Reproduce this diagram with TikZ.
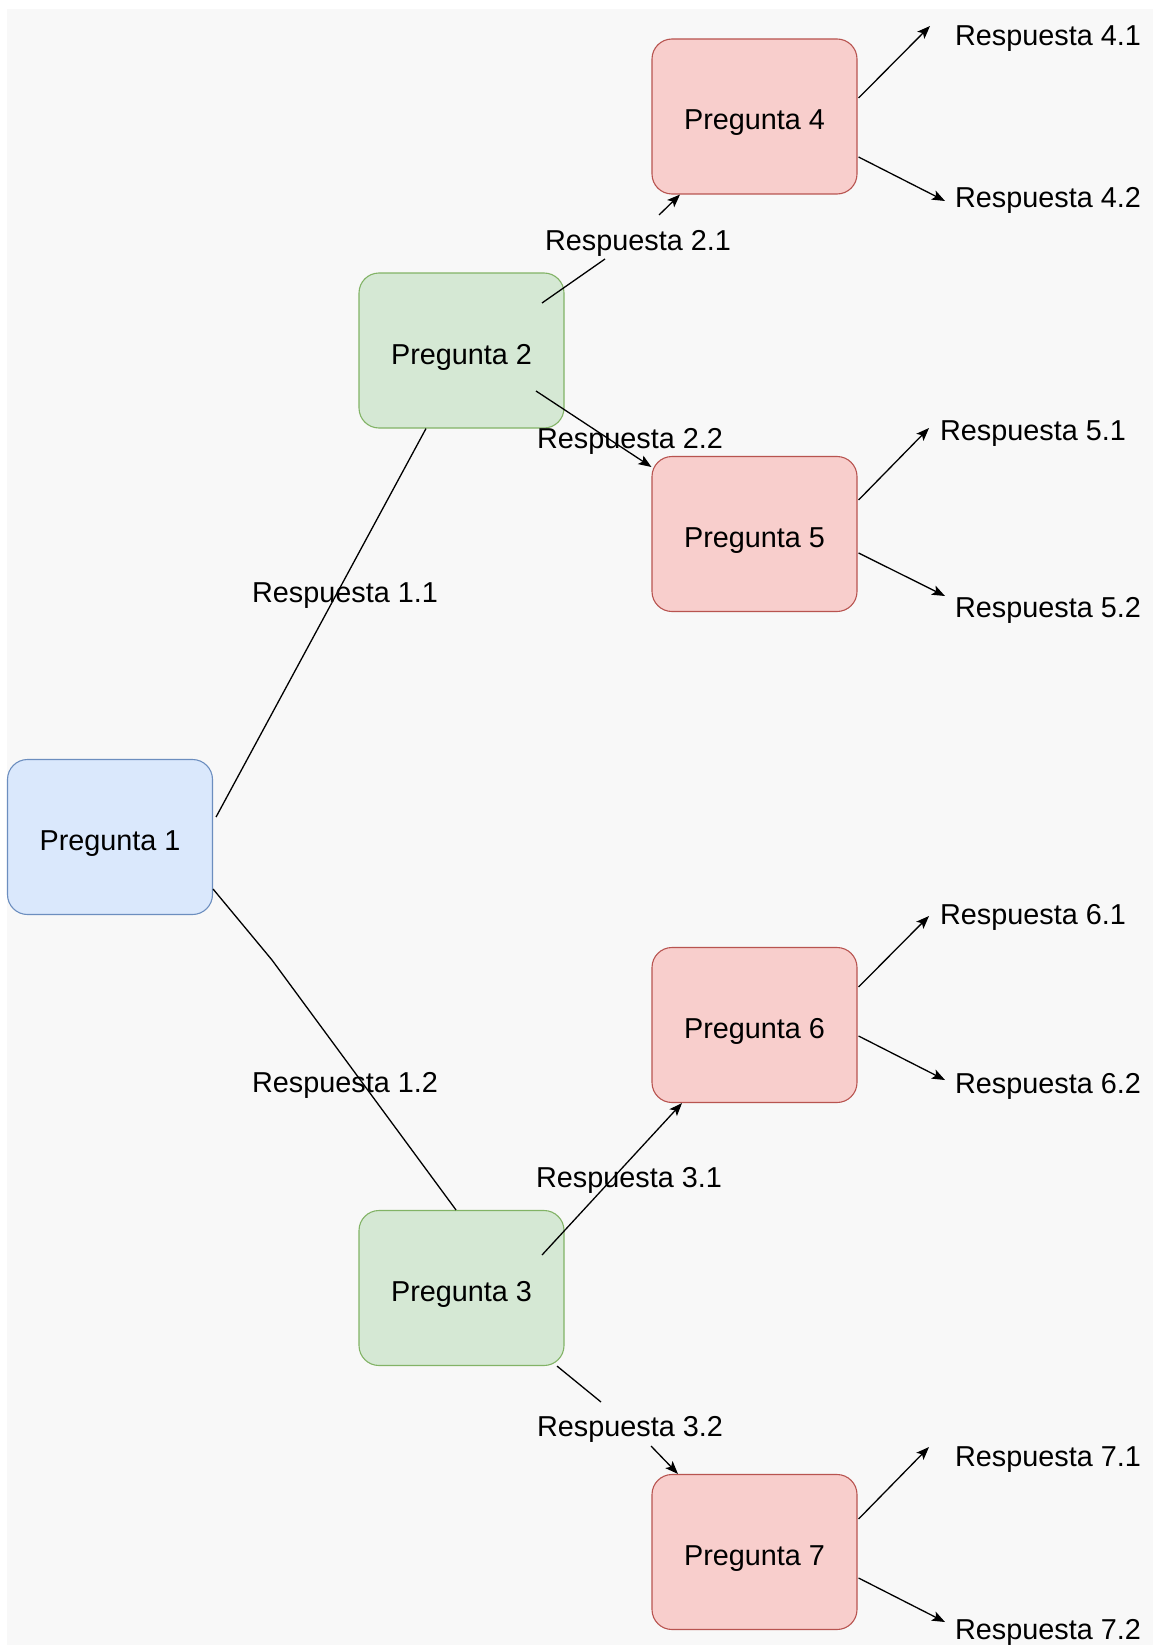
\documentclass[tikz,border=0pt]{standalone}
\usepackage{fontspec}
\setmainfont{Liberation Sans}
\usetikzlibrary{arrows.meta}
\definecolor{pagebg}{HTML}{F8F8F8}
\definecolor{bluefill}{HTML}{DAE8FC}
\definecolor{blueline}{HTML}{6C8EBF}
\definecolor{greenfill}{HTML}{D5E8D4}
\definecolor{greenline}{HTML}{82B366}
\definecolor{redfill}{HTML}{F8CECC}
\definecolor{redline}{HTML}{B85450}
\begin{document}
\begin{tikzpicture}[x=1pt,y=-1pt,
  box/.style={draw, rounded corners=20pt, minimum width=205pt, minimum height=155pt,
    inner sep=0pt, line width=1.1pt, text height=27pt, text depth=0pt,
    font=\fontsize{28.8}{34}\selectfont},
  rootq/.style={box, fill=bluefill, draw=blueline},
  midq/.style={box, fill=greenfill, draw=greenline},
  leafq/.style={box, fill=redfill, draw=redline},
  ans/.style={inner sep=0pt, text height=19.6pt, text depth=0pt,
    font=\fontsize{28.8}{34}\selectfont},
  link/.style={line width=1.3pt, black},
  arr/.style={link, -{Stealth[length=13pt,width=10pt,inset=3pt]}},
]
\useasboundingbox (0,0) rectangle (1153,1645);
\fill[white] (0,0) rectangle (1153,1645);
\fill[pagebg] (7,9) rectangle (1153,1645);

% question boxes
\node[rootq] (p1) at (110,837)    {Pregunta 1};
\node[midq]  (p2) at (461.5,350.5) {Pregunta 2};
\node[midq]  (p3) at (461.5,1288) {Pregunta 3};
\node[leafq] (p4) at (754.5,116.5) {Pregunta 4};
\node[leafq] (p5) at (754.5,534)  {Pregunta 5};
\node[leafq] (p6) at (754.5,1025) {Pregunta 6};
\node[leafq] (p7) at (754.5,1552) {Pregunta 7};

% answer labels
\node[ans] (r11) at (345,593)    {Respuesta 1.1};
\node[ans] (r12) at (345,1083)   {Respuesta 1.2};
\node[ans] (r21) at (638,241)    {Respuesta 2.1};
\node[ans] (r22) at (630,439)    {Respuesta 2.2};
\node[ans] (r31) at (629,1178)   {Respuesta 3.1};
\node[ans] (r32) at (630,1427)   {Respuesta 3.2};
\node[ans] (r41) at (1048,36)    {Respuesta 4.1};
\node[ans] (r42) at (1048,197.5) {Respuesta 4.2};
\node[ans] (r51) at (1033,431)   {Respuesta 5.1};
\node[ans] (r52) at (1048,608)   {Respuesta 5.2};
\node[ans] (r61) at (1033,914.5) {Respuesta 6.1};
\node[ans] (r62) at (1048,1084)  {Respuesta 6.2};
\node[ans] (r71) at (1048,1457)  {Respuesta 7.1};
\node[ans] (r72) at (1048,1630)  {Respuesta 7.2};

\coordinate (bend12) at (272,960);

% level 1
\draw[link] ([shift={(3pt,20pt)}]p1.east) -- ([xshift=-35.5pt]p2.south);
\draw[link] ([yshift=-52pt]p1.east) -- (bend12) -- ([xshift=-5.5pt]p3.north);

% level 2
\draw[link] ([shift={(80.5pt,47.5pt)}]p2.center) -- ([shift={(-33pt,-18pt)}]r21.center);
\draw[arr]  ([shift={(21pt,26pt)}]r21.center) -- ([xshift=-74.5pt]p4.south);
\draw[arr]  ([shift={(74.5pt,-40.5pt)}]p2.center) -- ([yshift=67pt]p5.west);
\draw[arr]  ([shift={(80.5pt,33pt)}]p3.center) -- ([xshift=-72.5pt]p6.south);
\draw[link] ([xshift=95.5pt]p3.south) -- ([shift={(-29pt,25pt)}]r32.center);
\draw[arr]  ([shift={(21pt,-19pt)}]r32.center) -- ([xshift=-76.5pt]p7.north);

% level 3
\draw[arr] ([shift={(1pt,18.5pt)}]p4.east)  -- ([shift={(-118pt,10pt)}]r41.center);
\draw[arr] ([shift={(1pt,-40.5pt)}]p4.east) -- ([shift={(-103pt,-3.5pt)}]r42.center);
\draw[arr] ([shift={(1pt,34pt)}]p5.east)    -- ([shift={(-104pt,3pt)}]r51.center);
\draw[arr] ([shift={(1pt,-19pt)}]p5.east)   -- ([shift={(-103pt,12pt)}]r52.center);
\draw[arr] ([shift={(1pt,38pt)}]p6.east)    -- ([shift={(-104pt,-1.5pt)}]r61.center);
\draw[arr] ([shift={(1pt,-11pt)}]p6.east)   -- ([shift={(-103pt,4pt)}]r62.center);
\draw[arr] ([shift={(1pt,33pt)}]p7.east)    -- ([shift={(-119pt,10pt)}]r71.center);
\draw[arr] ([shift={(1pt,-26pt)}]p7.east)   -- ([shift={(-103pt,8pt)}]r72.center);
\end{tikzpicture}
\end{document}
